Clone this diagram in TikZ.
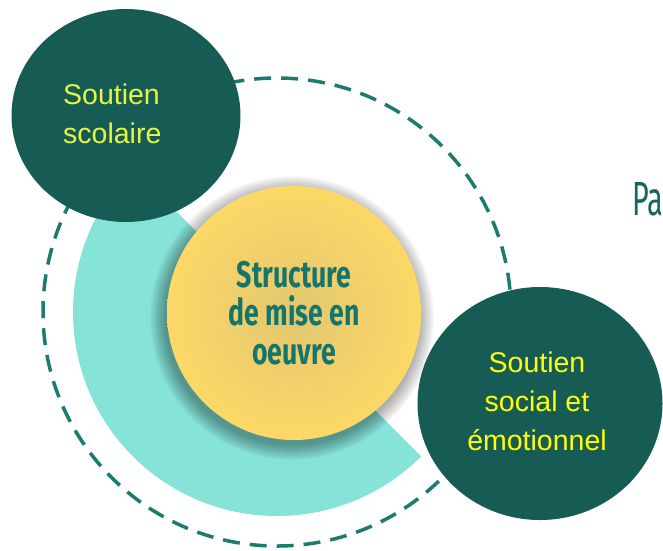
\documentclass[tikz,border=0pt]{standalone}
\usepackage{fontspec}
\setmainfont{Liberation Sans}
\newfontfamily\condfont{Fira Sans}[FakeStretch=0.72]
\newfontfamily\thinfont{Fira Sans}[FakeStretch=0.6]
\usepackage{tikz}
\usetikzlibrary{shapes.geometric,positioning,calc}
\usepackage{xcolor}

\definecolor{darkdisc}{RGB}{23,92,84}
\definecolor{ringteal}{RGB}{134,227,216}
\definecolor{sunfill}{RGB}{253,216,103}
\definecolor{sundark}{RGB}{226,199,112}
\definecolor{dashteal}{RGB}{28,122,111}
\definecolor{structtext}{RGB}{22,117,106}
\definecolor{limetext}{RGB}{230,245,63}
\definecolor{puretext}{RGB}{255,255,0}
\definecolor{patext}{RGB}{23,102,92}

\begin{document}
\begin{tikzpicture}[x=1pt, y=-1pt,
    bigdisc/.style={ellipse, fill=darkdisc, inner sep=0pt, outer sep=0pt},
    disctext/.style={inner sep=0pt, font=\fontsize{28.5}{39}\selectfont},
    sundisc/.style={circle, minimum size=254pt, inner sep=0pt, outer sep=0pt,
        inner color=sundark, outer color=sunfill, text=structtext,
        align=center, font=\condfont\bfseries\fontsize{37}{38.5}\selectfont},
    dashring/.style={draw=dashteal, line width=3.5pt, dash pattern=on 17pt off 10pt}]
    \useasboundingbox (0,0) rectangle (663,550);

    % Dashed outer circle
    \coordinate (hub) at (277,312);
    \draw[dashring] (hub) circle (234);

    % Half ring behind the centre
    \fill[ringteal] (hub) -- ++(225:204) arc[start angle=225, end angle=45, radius=204] -- cycle;

    % Soft shadow and centre disc
    \coordinate (sunc) at (294,313);
    \foreach \r in {1,...,16}
        \fill[black, opacity=0.022] ($(sunc)+(-2,5)$) circle (126+\r);
    \node[sundisc] (struct) at (sunc) {Structure\\de mise en\\oeuvre};

    % Top left disc
    \node[bigdisc, minimum width=229pt, minimum height=213pt] (scolaire) at (126,115.5) {};
    \node[disctext, text=limetext, align=left, anchor=west] (scolaireTxt) at (63,114) {Soutien\\scolaire};

    % Bottom right disc
    \node[bigdisc, minimum width=245pt, minimum height=233pt] (social) at (540,403.5) {};
    \node[disctext, text=puretext, align=center] (socialTxt) at (537,401) {Soutien\\social et\\émotionnel};

    % Cut off title
    \node[anchor=base west, inner sep=0pt, text=patext, font=\thinfont\fontsize{48}{48}\selectfont] (title) at (632,215) {Pa};
\end{tikzpicture}
\end{document}
